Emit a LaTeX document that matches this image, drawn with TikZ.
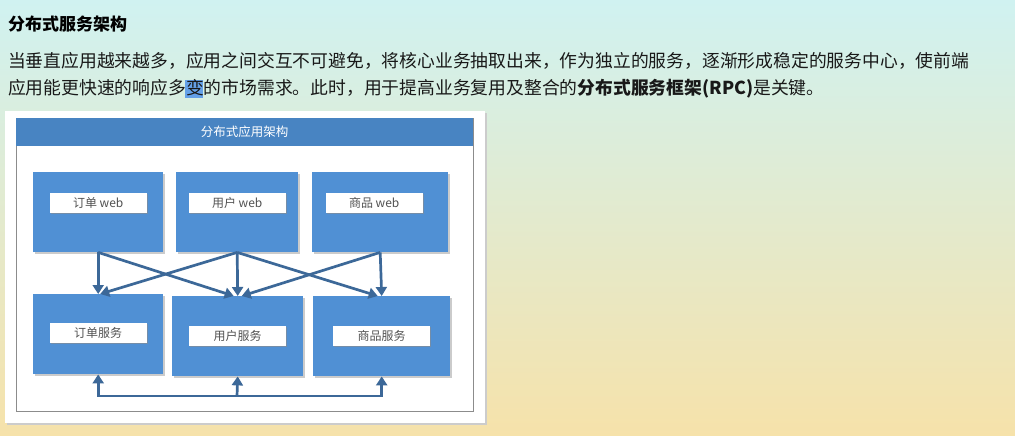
\documentclass[tikz,border=0pt]{standalone}
\usepackage{fontspec}
\setmainfont{Noto Sans CJK SC}
\usetikzlibrary{arrows.meta,positioning,shadows,calc}

\definecolor{bgtop}{RGB}{208,242,241}
\definecolor{bgmid}{RGB}{228,234,200}
\definecolor{bgbot}{RGB}{246,226,170}
\definecolor{boxblue}{RGB}{80,144,212}
\definecolor{headblue}{RGB}{72,132,194}
\definecolor{arrowblue}{RGB}{60,104,152}
\definecolor{selblue}{RGB}{100,160,232}

\begin{document}
\begin{tikzpicture}[x=1pt, y=-1pt,
  txt/.style={anchor=base west, inner sep=0pt, font=\fontsize{17.8}{20}\selectfont, text=black!90},
  tier/.style={rectangle, fill=boxblue, anchor=north west, inner sep=0pt, minimum height=80pt,
               drop shadow={shadow xshift=1.5pt, shadow yshift=-1.5pt, fill=black!40, opacity=.5}},
  tag/.style={rectangle, fill=white, minimum width=97pt, minimum height=20pt, inner sep=0pt,
              font=\fontsize{12}{14}\selectfont, text=black!68,
              drop shadow={shadow xshift=1.2pt, shadow yshift=-1.2pt, fill=black!45, opacity=.6}},
  arr/.style={-{Triangle[length=9pt, width=11pt]}, line width=2.7pt, draw=arrowblue}
]

% page background
\shade[top color=bgtop, middle color=bgmid, bottom color=bgbot] (0,0) rectangle (1015,436);
\useasboundingbox (0,0) rectangle (1015,436);

% heading and paragraph
\node[txt, font=\fontsize{17}{20}\selectfont\bfseries, text=black] (title) at (8,31) {分布式服务架构};
\fill[selblue] (185,80) rectangle (203,98);
\node[txt] (line1) at (8,67) {当垂直应用越来越多，应用之间交互不可避免，将核心业务抽取出来，作为独立的服务，逐渐形成稳定的服务中心，使前端};
\node[txt] (line2) at (8,95) {应用能更快速的响应多变的市场需求。此时，用于提高业务复用及整合的{\bfseries 分布式服务框架(RPC)}是关键。};

% picture card
\fill[black!20] (7,113) rectangle (487,425);
\fill[white] (5,111) rectangle (485,423);
\draw[draw=black!45, line width=0.8pt] (16,118) rectangle (473,411);
\node[rectangle, fill=headblue, anchor=north west, inner sep=0pt, minimum width=457pt, minimum height=28pt,
      font=\fontsize{12.5}{14}\selectfont, text=white] (head) at (16,118) {分布式应用架构};

% web tier
\node[tier, minimum width=130pt] (web1) at (33,172) {};
\node[tier, minimum width=122pt] (web2) at (176,172) {};
\node[tier, minimum width=136pt] (web3) at (312,172) {};
\node[tag, below=21pt of web1.north] {订单 web};
\node[tag, below=21pt of web2.north] {用户 web};
\node[tag, below=21pt of web3.north, xshift=-6pt] {商品 web};

% service tier
\node[tier, minimum width=130pt] (svc1) at (33,294) {};
\node[tier, minimum width=131pt] (svc2) at (172,296) {};
\node[tier, minimum width=137pt] (svc3) at (313,296) {};
\node[tag, below=29pt of svc1.north] {订单服务};
\node[tag, below=30pt of svc2.north] {用户服务};
\node[tag, below=30pt of svc3.north] {商品服务};

% calls between tiers
\draw[arr] (web1.south) -- (svc1.north);
\draw[arr] (web1.south) -- ($(svc2.north)+(-4,0)$);
\draw[arr] (web2.south) -- ($(svc1.north)+(2,0)$);
\draw[arr] (web2.south) -- (svc2.north);
\draw[arr] (web2.south) -- ($(svc3.north)+(-4,0)$);
\draw[arr] (web3.south) -- ($(svc2.north)+(4,0)$);
\draw[arr] (web3.south) -- (svc3.north);

% calls among services
\coordinate (bus) at (237,396);
\draw[arr] (bus) -| (svc1.south);
\draw[arr] (bus) -| (svc3.south);
\draw[arr] (bus) -- (svc2.south);

\end{tikzpicture}
\end{document}
